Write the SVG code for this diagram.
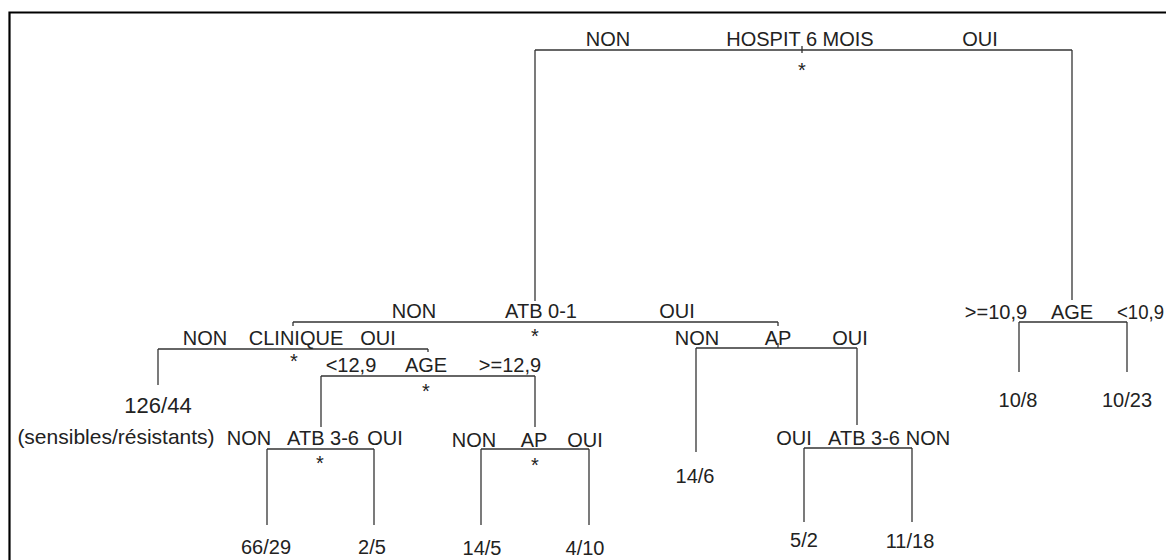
<svg xmlns="http://www.w3.org/2000/svg" width="1166" height="560" viewBox="0 0 1166 560">
<style>
text{font-family:"Liberation Sans",Arial,sans-serif;font-size:20px;fill:#222;text-anchor:middle}
.st{font-size:20px}
.c line{stroke:#333;stroke-width:1.3;fill:none}
.frame{stroke:#000;stroke-width:2.2;fill:none}
</style>
<rect width="1166" height="560" fill="#fff"/>
<path class="frame" d="M9.5,560 V12.5 H1166"/>
<g id="connectors" class="c">
<line x1="535" y1="50" x2="1072" y2="50"/>
<line x1="802" y1="46" x2="802" y2="53"/>
<line x1="535" y1="50" x2="535" y2="301"/>
<line x1="1072" y1="50" x2="1072" y2="300"/>
<line x1="293" y1="322" x2="778" y2="322"/>
<line x1="293" y1="322" x2="293" y2="326"/>
<line x1="778" y1="322" x2="778" y2="326"/>
<line x1="696" y1="348" x2="857" y2="348"/>
<line x1="778" y1="343" x2="778" y2="348"/>
<line x1="696" y1="348" x2="696" y2="452"/>
<line x1="857" y1="348" x2="857" y2="425"/>
<line x1="804" y1="448" x2="912" y2="448"/>
<line x1="804" y1="448" x2="804" y2="522"/>
<line x1="912" y1="448" x2="912" y2="522"/>
<line x1="158" y1="349" x2="428" y2="349"/>
<line x1="158" y1="349" x2="158" y2="385"/>
<line x1="428" y1="349" x2="428" y2="352"/>
<line x1="321" y1="376" x2="535" y2="376"/>
<line x1="321" y1="376" x2="321" y2="427"/>
<line x1="535" y1="376" x2="535" y2="427"/>
<line x1="267" y1="449" x2="374" y2="449"/>
<line x1="267" y1="449" x2="267" y2="525"/>
<line x1="374" y1="449" x2="374" y2="525"/>
<line x1="481" y1="449" x2="589" y2="449"/>
<line x1="481" y1="449" x2="481" y2="525"/>
<line x1="589" y1="449" x2="589" y2="525"/>
<line x1="1019" y1="322" x2="1127" y2="322"/>
<line x1="1019" y1="322" x2="1019" y2="372"/>
<line x1="1127" y1="322" x2="1127" y2="372"/>
</g>
<g id="hospit">
<text x="608" y="46">NON</text>
<text x="800" y="46">HOSPIT 6 MOIS</text>
<text x="980" y="46">OUI</text>
<text class="st" x="802" y="76.5">*</text>
</g>
<g id="atb01">
<text x="414" y="318">NON</text>
<text x="541" y="318">ATB 0-1</text>
<text x="677" y="318">OUI</text>
<text class="st" x="535" y="343">*</text>
</g>
<g id="age-right">
<text x="996" y="319">&gt;=10,9</text>
<text x="1072" y="319">AGE</text>
<text x="1117" y="319" style="text-anchor:start" textLength="47" lengthAdjust="spacingAndGlyphs">&lt;10,9</text>
</g>
<g id="clinique">
<text x="205" y="345">NON</text>
<text x="296" y="345">CLINIQUE</text>
<text x="378" y="345">OUI</text>
<text class="st" x="294" y="368">*</text>
</g>
<g id="ap-right">
<text x="697" y="345">NON</text>
<text x="778" y="345">AP</text>
<text x="850" y="345">OUI</text>
</g>
<g id="age-left">
<text x="351" y="372">&lt;12,9</text>
<text x="426" y="372">AGE</text>
<text x="510" y="372">&gt;=12,9</text>
<text class="st" x="426" y="398">*</text>
</g>
<g id="leaf-126-44">
<text x="158" y="413" style="font-size:22px">126/44</text>
<text x="116" y="444" style="font-size:21px">(sensibles/résistants)</text>
</g>
<g id="atb36-left">
<text x="249" y="445">NON</text>
<text x="323" y="445">ATB 3-6</text>
<text x="385" y="445">OUI</text>
<text class="st" x="320" y="469.5">*</text>
</g>
<g id="ap-left">
<text x="474" y="447">NON</text>
<text x="534" y="447">AP</text>
<text x="585" y="447">OUI</text>
<text class="st" x="535" y="471.5">*</text>
</g>
<g id="atb36-right">
<text x="794" y="445">OUI</text>
<text x="864" y="445">ATB 3-6</text>
<text x="928" y="445">NON</text>
</g>
<g id="leaf-66-29"><text x="266" y="554">66/29</text></g>
<g id="leaf-2-5"><text x="372" y="554">2/5</text></g>
<g id="leaf-14-5"><text x="482" y="555">14/5</text></g>
<g id="leaf-4-10"><text x="585" y="555">4/10</text></g>
<g id="leaf-14-6"><text x="695" y="483">14/6</text></g>
<g id="leaf-5-2"><text x="804" y="547">5/2</text></g>
<g id="leaf-11-18"><text x="910" y="548">11/18</text></g>
<g id="leaf-10-8"><text x="1018" y="407">10/8</text></g>
<g id="leaf-10-23"><text x="1127" y="407">10/23</text></g>
</svg>
